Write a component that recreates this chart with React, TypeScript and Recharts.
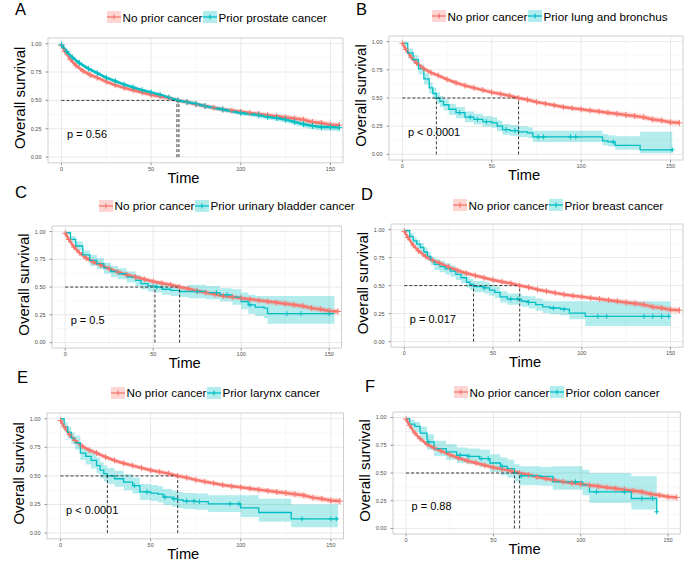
import {
  Area,
  CartesianGrid,
  ComposedChart,
  Label,
  Line,
  ReferenceArea,
  ReferenceDot,
  ReferenceLine,
  XAxis,
  YAxis,
} from "recharts";

const RED = "#F8766D";
const TEAL = "#00BFC4";
const FONT = "'Liberation Sans', Arial, Helvetica, sans-serif";

// No prior cancer (same reference group in every panel)
const redT = [0, 2, 5, 8, 12, 16, 20, 25, 30, 35, 40, 45, 50, 55, 60, 65, 70, 75, 80, 85, 90, 95, 100, 105, 110, 115, 120, 125, 130, 135, 140, 145, 150, 155];
const redS = [0.985, 0.93, 0.86, 0.81, 0.76, 0.725, 0.7, 0.665, 0.635, 0.61, 0.59, 0.57, 0.55, 0.535, 0.52, 0.5, 0.485, 0.465, 0.45, 0.435, 0.42, 0.41, 0.4, 0.39, 0.38, 0.37, 0.36, 0.35, 0.34, 0.33, 0.31, 0.3, 0.285, 0.28];
const redLo = [0.975, 0.912, 0.842, 0.79, 0.74, 0.705, 0.68, 0.645, 0.615, 0.59, 0.57, 0.55, 0.53, 0.515, 0.5, 0.48, 0.465, 0.445, 0.43, 0.415, 0.4, 0.39, 0.38, 0.37, 0.358, 0.348, 0.337, 0.326, 0.315, 0.305, 0.285, 0.275, 0.26, 0.255];
const redHi = [0.995, 0.948, 0.878, 0.83, 0.78, 0.745, 0.72, 0.685, 0.655, 0.63, 0.61, 0.59, 0.57, 0.555, 0.54, 0.52, 0.505, 0.485, 0.47, 0.455, 0.44, 0.43, 0.42, 0.41, 0.402, 0.392, 0.383, 0.374, 0.365, 0.355, 0.335, 0.325, 0.31, 0.305];

// A: prior prostate cancer
const aT = [0, 3, 6, 10, 15, 20, 25, 30, 35, 40, 45, 50, 55, 60, 65, 70, 75, 80, 90, 100, 110, 115, 120, 125, 130, 135, 140, 145, 150, 155];
const aS = [0.99, 0.93, 0.88, 0.83, 0.78, 0.74, 0.7, 0.67, 0.64, 0.615, 0.59, 0.57, 0.55, 0.525, 0.5, 0.485, 0.47, 0.45, 0.42, 0.39, 0.37, 0.355, 0.345, 0.33, 0.31, 0.29, 0.275, 0.265, 0.265, 0.26];
const aLo = [0.98, 0.915, 0.865, 0.815, 0.765, 0.725, 0.685, 0.655, 0.625, 0.6, 0.575, 0.555, 0.535, 0.51, 0.485, 0.468, 0.452, 0.432, 0.4, 0.37, 0.348, 0.332, 0.32, 0.305, 0.283, 0.262, 0.245, 0.235, 0.233, 0.228];
const aHi = [1.0, 0.945, 0.895, 0.845, 0.795, 0.755, 0.715, 0.685, 0.655, 0.63, 0.605, 0.585, 0.565, 0.54, 0.515, 0.502, 0.488, 0.468, 0.44, 0.41, 0.392, 0.378, 0.37, 0.355, 0.337, 0.318, 0.305, 0.295, 0.297, 0.292];

// B: prior lung and bronchus
const bT = [0, 3, 6, 9, 12, 15, 17, 19, 21, 23, 26, 30, 35, 40, 45, 50, 53, 56, 60, 65, 70, 73, 90, 112, 115, 119, 125, 133, 151];
const bS = [0.985, 0.9, 0.84, 0.76, 0.67, 0.59, 0.54, 0.5, 0.47, 0.44, 0.4, 0.37, 0.33, 0.31, 0.29, 0.28, 0.25, 0.22, 0.21, 0.2, 0.19, 0.155, 0.155, 0.12, 0.11, 0.08, 0.08, 0.04, 0.04];
const bLo = [0.96, 0.86, 0.8, 0.71, 0.62, 0.54, 0.49, 0.45, 0.42, 0.39, 0.35, 0.32, 0.285, 0.265, 0.245, 0.235, 0.205, 0.175, 0.165, 0.155, 0.145, 0.11, 0.11, 0.08, 0.07, 0.04, 0.04, 0.01, 0.01];
const bHi = [1.0, 0.94, 0.88, 0.8, 0.72, 0.64, 0.59, 0.55, 0.52, 0.49, 0.45, 0.42, 0.38, 0.36, 0.34, 0.33, 0.3, 0.27, 0.26, 0.25, 0.24, 0.21, 0.21, 0.18, 0.17, 0.16, 0.16, 0.2, 0.2];
const bCensor = [[32, 0.37], [38, 0.33], [42, 0.31], [47, 0.29], [58, 0.22], [63, 0.21], [76, 0.155], [79, 0.155], [94, 0.155], [97, 0.155], [118, 0.11], [151, 0.04]];

// C: prior urinary bladder cancer
const cT = [0, 3, 6, 10, 14, 18, 22, 26, 30, 35, 40, 43, 47, 51, 55, 60, 65, 70, 80, 88, 95, 100, 104, 108, 113, 115, 153];
const cS = [0.99, 0.93, 0.87, 0.79, 0.74, 0.71, 0.67, 0.64, 0.62, 0.59, 0.56, 0.53, 0.51, 0.5, 0.48, 0.47, 0.46, 0.46, 0.45, 0.43, 0.41, 0.37, 0.34, 0.32, 0.31, 0.26, 0.26];
const cLo = [0.97, 0.9, 0.83, 0.75, 0.69, 0.66, 0.62, 0.59, 0.57, 0.54, 0.51, 0.48, 0.46, 0.45, 0.43, 0.42, 0.41, 0.4, 0.39, 0.37, 0.34, 0.3, 0.26, 0.24, 0.22, 0.17, 0.17];
const cHi = [1.0, 0.96, 0.91, 0.83, 0.79, 0.76, 0.72, 0.69, 0.67, 0.64, 0.61, 0.58, 0.56, 0.55, 0.53, 0.52, 0.51, 0.52, 0.51, 0.49, 0.48, 0.45, 0.43, 0.42, 0.42, 0.42, 0.42];
const cCensor = [[52, 0.5], [75, 0.46], [86, 0.45], [92, 0.43], [105, 0.34], [126, 0.26], [134, 0.26], [150, 0.26]];

// D: prior breast cancer
const dT = [0, 3, 5, 7, 9, 11, 13, 15, 17, 20, 23, 26, 29, 32, 35, 37, 39, 45, 48, 51, 54, 58, 66, 70, 74, 78, 82, 88, 93, 102, 150];
const dS = [0.99, 0.94, 0.9, 0.87, 0.84, 0.8, 0.76, 0.72, 0.69, 0.67, 0.65, 0.63, 0.6, 0.57, 0.53, 0.51, 0.49, 0.48, 0.46, 0.44, 0.4, 0.38, 0.36, 0.35, 0.33, 0.31, 0.3, 0.29, 0.255, 0.225, 0.225];
const dLo = [0.97, 0.91, 0.87, 0.83, 0.8, 0.76, 0.72, 0.68, 0.64, 0.62, 0.6, 0.58, 0.55, 0.52, 0.48, 0.46, 0.44, 0.43, 0.41, 0.39, 0.35, 0.33, 0.31, 0.295, 0.275, 0.255, 0.245, 0.235, 0.2, 0.14, 0.14];
const dHi = [1.0, 0.97, 0.93, 0.91, 0.88, 0.84, 0.8, 0.76, 0.74, 0.72, 0.7, 0.68, 0.65, 0.62, 0.58, 0.56, 0.54, 0.53, 0.51, 0.49, 0.45, 0.43, 0.41, 0.405, 0.385, 0.365, 0.36, 0.36, 0.36, 0.36, 0.36];
const dCensor = [[45, 0.48], [60, 0.38], [64, 0.38], [70, 0.35], [84, 0.3], [90, 0.29], [109, 0.225], [114, 0.225], [135, 0.225], [140, 0.225], [145, 0.225], [149, 0.225]];

// E: prior larynx cancer
const eT = [0, 2, 4, 6, 8, 11, 14, 17, 20, 22, 24, 26, 30, 35, 40, 44, 50, 54, 57, 62, 65, 68, 75, 82, 100, 110, 128, 154];
const eS = [1.0, 0.93, 0.88, 0.83, 0.79, 0.7, 0.67, 0.635, 0.59, 0.55, 0.52, 0.5, 0.475, 0.445, 0.415, 0.36, 0.35, 0.34, 0.315, 0.3, 0.29, 0.28, 0.275, 0.256, 0.22, 0.18, 0.125, 0.125];
const eLo = [0.98, 0.89, 0.83, 0.78, 0.73, 0.64, 0.6, 0.565, 0.52, 0.48, 0.45, 0.43, 0.405, 0.375, 0.345, 0.29, 0.28, 0.27, 0.245, 0.23, 0.22, 0.21, 0.205, 0.185, 0.14, 0.1, 0.05, 0.05];
const eHi = [1.0, 0.97, 0.93, 0.88, 0.85, 0.76, 0.74, 0.705, 0.66, 0.62, 0.59, 0.57, 0.545, 0.515, 0.485, 0.43, 0.42, 0.41, 0.385, 0.37, 0.36, 0.35, 0.345, 0.33, 0.33, 0.3, 0.25, 0.25];
const eCensor = [[41, 0.415], [48, 0.36], [58, 0.315], [63, 0.3], [70, 0.28], [74, 0.28], [77, 0.275], [94, 0.256], [99, 0.256], [134, 0.125], [150, 0.125], [153, 0.125]];

// F: prior colon cancer
const fT = [0, 2, 5, 8, 12, 16, 23, 29, 35, 42, 48, 54, 58, 62, 65, 77, 84, 101, 105, 129, 143.5];
const fS = [0.99, 0.94, 0.92, 0.86, 0.78, 0.72, 0.69, 0.66, 0.65, 0.63, 0.59, 0.56, 0.54, 0.5, 0.475, 0.47, 0.42, 0.39, 0.33, 0.27, 0.15];
const fLo = [0.97, 0.9, 0.87, 0.8, 0.71, 0.65, 0.62, 0.59, 0.58, 0.555, 0.51, 0.48, 0.46, 0.42, 0.39, 0.385, 0.35, 0.3, 0.23, 0.17, 0.17];
const fHi = [1.0, 0.98, 0.96, 0.92, 0.85, 0.79, 0.76, 0.73, 0.72, 0.71, 0.67, 0.64, 0.62, 0.58, 0.56, 0.555, 0.56, 0.53, 0.5, 0.47, 0.47];
const fCensor = [[13, 0.78], [31, 0.66], [36, 0.65], [43, 0.63], [47, 0.63], [55, 0.56], [66, 0.475], [97, 0.42], [109, 0.33], [125, 0.33], [135, 0.27], [141, 0.27], [143.5, 0.15]];

const groupLabels = ["Prior prostate cancer", "Prior lung and bronchus", "Prior urinary bladder cancer", "Prior breast cancer", "Prior larynx cancer", "Prior colon cancer"];
const pValues = ["p = 0.56", "p < 0.0001", "p = 0.5", "p = 0.017", "p < 0.0001", "p = 0.88"];
const tealMedians = [64.4, 19, 51, 39, 26, 62];
const redMedian = 65;

const curve = (t: number[], s: number[], lo: number[], hi: number[]) =>
  t.map((x, i) => ({ t: x, s: s[i], band: [lo[i], hi[i]] }));
const marks = (pairs: number[][]) => pairs.map(([t, s]) => ({ t, s }));

const redCurve = curve(redT, redS, redLo, redHi);

const panels = [
  { letter: "A", teal: curve(aT, aS, aLo, aHi), censor: [], dense: true, box: { l: 48, r: 343, t: 37.6, b: 162.4 }, legend: { x: 107, y: 17 }, tag: { x: 15, y: 15.3 } },
  { letter: "B", teal: curve(bT, bS, bLo, bHi), censor: marks(bCensor), dense: false, box: { l: 389, r: 683, t: 36, b: 160 }, legend: { x: 432, y: 16 }, tag: { x: 356, y: 15.3 } },
  { letter: "C", teal: curve(cT, cS, cLo, cHi), censor: marks(cCensor), dense: false, box: { l: 51.5, r: 341, t: 225.8, b: 347.9 }, legend: { x: 99, y: 205.7 }, tag: { x: 15, y: 198 } },
  { letter: "D", teal: curve(dT, dS, dLo, dHi), censor: marks(dCensor), dense: false, box: { l: 390.7, r: 682.7, t: 224.4, b: 347.6 }, legend: { x: 453, y: 205 }, tag: { x: 361, y: 200 } },
  { letter: "E", teal: curve(eT, eS, eLo, eHi), censor: marks(eCensor), dense: false, box: { l: 46.5, r: 343, t: 412.6, b: 538.4 }, legend: { x: 111, y: 392.7 }, tag: { x: 17, y: 383 } },
  { letter: "F", teal: curve(fT, fS, fLo, fHi), censor: marks(fCensor), dense: false, box: { l: 393, r: 680.3, t: 412.2, b: 534.2 }, legend: { x: 454, y: 392 }, tag: { x: 365, y: 392 } },
];

const ML = 48;
const MR = 2;
const MT = 4;
const MB = 28;
const XDOM = [-7.5, 157];

const plus = (color: string, size = 2.5) => (props: any) => {
  const { cx, cy, index } = props;
  if (cx == null || cy == null) return <g key={`n${index}`} />;
  return (
    <path
      key={`p${index}`}
      d={`M${cx - size},${cy}h${size * 2}M${cx},${cy - size}v${size * 2}`}
      stroke={color}
      strokeWidth={1}
      fill="none"
    />
  );
};

function Key({ color }: { color: string }) {
  return (
    <svg width={14} height={12} style={{ display: "block" }}>
      <rect x={0} y={0} width={14} height={12} fill={color} fillOpacity={0.3} />
      <line x1={0} x2={14} y1={6} y2={6} stroke={color} strokeWidth={1.3} />
      <path d="M7,3.5v5" stroke={color} strokeWidth={1.2} />
    </svg>
  );
}

function Panel({ cfg, idx }: { cfg: (typeof panels)[number]; idx: number }) {
  const { box } = cfg;
  const W = box.r - box.l + ML + MR;
  const H = box.b - box.t + MT + MB;
  const medians = idx === 0 ? [tealMedians[idx], redMedian + 0.5] : [tealMedians[idx], redMedian];
  const medMax = Math.max(...medians);

  return (
    <>
      <div
        style={{
          position: "absolute",
          left: cfg.tag.x,
          top: cfg.tag.y - 15.2,
          fontFamily: FONT,
          fontSize: 16.5,
          lineHeight: "normal",
        }}
      >
        {cfg.letter}
      </div>
      <div
        style={{
          position: "absolute",
          left: cfg.legend.x,
          top: cfg.legend.y - 7,
          height: 14,
          display: "flex",
          alignItems: "center",
          fontFamily: FONT,
          fontSize: 11.7,
          whiteSpace: "nowrap",
        }}
      >
        <Key color={RED} />
        <span style={{ marginLeft: 1.5, marginRight: 0.5 }}>No prior cancer</span>
        <Key color={TEAL} />
        <span style={{ marginLeft: 1.5 }}>{groupLabels[idx]}</span>
      </div>
      <div style={{ position: "absolute", left: box.l - ML, top: box.t - MT }}>
        <ComposedChart width={W} height={H} margin={{ top: MT, right: MR, bottom: 0, left: 0 }}>
          <CartesianGrid
            horizontalValues={[0.125, 0.375, 0.625, 0.875]}
            verticalValues={[25, 75, 125]}
            stroke="#f3f3f3"
            strokeWidth={0.6}
          />
          <CartesianGrid
            horizontalValues={[0, 0.25, 0.5, 0.75, 1]}
            verticalValues={[0, 50, 100, 150]}
            stroke="#e8e8e8"
            strokeWidth={1}
          />
          <XAxis
            type="number"
            dataKey="t"
            domain={XDOM}
            ticks={[0, 50, 100, 150]}
            interval={0}
            allowDataOverflow
            axisLine={false}
            tickSize={2.5}
            tickMargin={1.5}
            height={MB}
            tick={{ fontSize: 5.5, fill: "#4d4d4d", fontFamily: FONT }}
            tickLine={{ stroke: "#333", strokeWidth: 0.5 }}
          >
            <Label
              content={(p: any) => {
                const vb = p.viewBox;
                return (
                  <text
                    x={vb.x + vb.width / 2 - 12}
                    y={vb.y + 15}
                    textAnchor="middle"
                    dominantBaseline="central"
                    fontSize={14.7}
                    fontFamily={FONT}
                    fill="#000"
                  >
                    Time
                  </text>
                );
              }}
            />
          </XAxis>
          <YAxis
            type="number"
            dataKey="s"
            domain={[-0.05, 1.05]}
            ticks={[0, 0.25, 0.5, 0.75, 1]}
            interval={0}
            tickFormatter={(v: number) => v.toFixed(2)}
            allowDataOverflow
            axisLine={false}
            tickSize={2.5}
            tickMargin={4}
            width={ML}
            tick={{ fontSize: 5.5, fill: "#4d4d4d", fontFamily: FONT }}
            tickLine={{ stroke: "#333", strokeWidth: 0.5 }}
          >
            <Label
              content={(p: any) => {
                const vb = p.viewBox;
                const cx = vb.x + vb.width - 28.5;
                const cy = vb.y + vb.height / 2 - 2.5;
                return (
                  <text
                    x={cx}
                    y={cy}
                    transform={`rotate(-90 ${cx} ${cy})`}
                    textAnchor="middle"
                    dominantBaseline="central"
                    fontSize={15}
                    fontFamily={FONT}
                    fill="#000"
                  >
                    Overall survival
                  </text>
                );
              }}
            />
          </YAxis>
          <ReferenceArea
            x1={XDOM[0]}
            x2={XDOM[1]}
            y1={-0.05}
            y2={1.05}
            fill="none"
            stroke="#cfcfcf"
            strokeWidth={1}
            ifOverflow="visible"
          />
          <Area
            data={cfg.teal}
            dataKey="band"
            type={cfg.dense ? "linear" : "stepAfter"}
            fill={TEAL}
            fillOpacity={0.3}
            stroke="none"
            isAnimationActive={false}
          />
          <Area
            data={redCurve}
            dataKey="band"
            type="linear"
            fill={RED}
            fillOpacity={0.3}
            stroke="none"
            isAnimationActive={false}
          />
          <Line
            data={redCurve}
            dataKey="s"
            type="linear"
            stroke={RED}
            strokeWidth={2.5}
            dot={plus(RED, 3)}
            isAnimationActive={false}
          />
          <Line
            data={cfg.teal}
            dataKey="s"
            type={cfg.dense ? "linear" : "stepAfter"}
            stroke={TEAL}
            strokeWidth={cfg.dense ? 2.4 : 1.3}
            dot={cfg.dense ? plus(TEAL, 3) : false}
            isAnimationActive={false}
          />
          {cfg.censor.length > 0 && (
            <Line
              data={cfg.censor}
              dataKey="s"
              stroke="none"
              dot={plus(TEAL)}
              isAnimationActive={false}
            />
          )}
          <ReferenceLine
            segment={[{ x: 0, y: 0.5 }, { x: medMax, y: 0.5 }]}
            stroke="#222"
            strokeWidth={0.9}
            strokeDasharray="3 2"
            ifOverflow="visible"
          />
          {medians.map((m) => (
            <ReferenceLine
              key={m}
              segment={[{ x: m, y: 0 }, { x: m, y: 0.5 }]}
              stroke="#222"
              strokeWidth={0.9}
              strokeDasharray="3 2"
              ifOverflow="visible"
            />
          ))}
          <ReferenceDot
            x={3.1}
            y={0.2}
            r={0}
            fill="none"
            stroke="none"
            ifOverflow="visible"
            label={{
              content: (p: any) => {
                const vb = p.viewBox;
                return (
                  <text
                    x={vb.x}
                    y={vb.y}
                    dominantBaseline="central"
                    fontSize={11}
                    fontFamily={FONT}
                    fill="#000"
                  >
                    {pValues[idx]}
                  </text>
                );
              },
            }}
          />
        </ComposedChart>
      </div>
    </>
  );
}

export default function App() {
  return (
    <div
      style={{
        position: "absolute",
        left: 0,
        top: 0,
        width: 685,
        height: 561,
        background: "#fff",
        overflow: "hidden",
      }}
    >
      {panels.map((cfg, i) => (
        <Panel key={cfg.letter} cfg={cfg} idx={i} />
      ))}
    </div>
  );
}
